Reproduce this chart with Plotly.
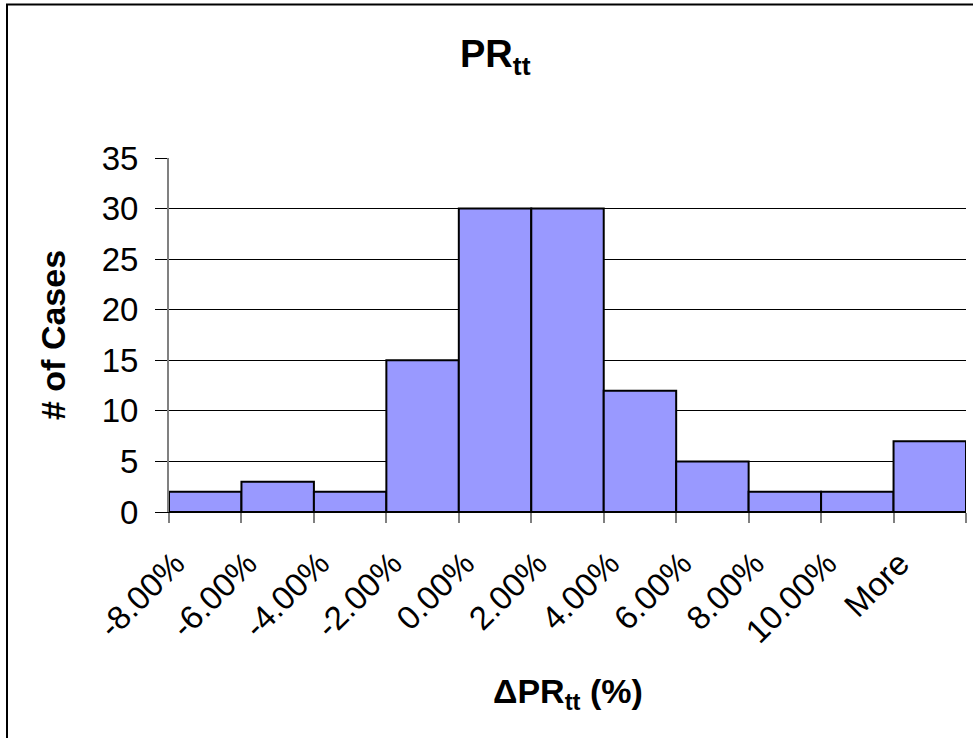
import plotly.graph_objects as go

bin_labels = ["-8.00%", "-6.00%", "-4.00%", "-2.00%", "0.00%", "2.00%",
              "4.00%", "6.00%", "8.00%", "10.00%", "More"]
counts = [2, 3, 2, 15, 30, 30, 12, 5, 2, 2, 7]
y_ticks = [0, 5, 10, 15, 20, 25, 30, 35]

FONT = "Arial, 'Liberation Sans', sans-serif"

W, H = 973, 738
L, R, T, B = 169, 7, 158, 226
pw, ph = W - L - R, H - T - B

def px_x(px):
    return (px - L) / pw

def px_y(py):
    return (H - B - py) / ph

n = len(counts)
x_centers = [i + 0.5 for i in range(n)]

fig = go.Figure()
fig.add_trace(go.Bar(
    x=x_centers, y=counts, width=1.0,
    marker=dict(color="#9999FF", line=dict(color="black", width=2)),
    hoverinfo="y",
))

fig.update_layout(
    width=W, height=H,
    margin=dict(l=L, r=R, t=T, b=B, pad=0),
    paper_bgcolor="white", plot_bgcolor="white",
    showlegend=False,
    font=dict(family=FONT, color="black", size=32),
    xaxis=dict(
        range=[0, n],
        tickmode="array",
        tickvals=list(range(n + 1)),
        ticktext=bin_labels + [""],
        tickangle=-45,
        ticks="outside", ticklen=10, tickcolor="#808080", tickwidth=1.5,
        ticklabelstandoff=8, ticklabelshift=6,
        showline=True, linecolor="black", linewidth=1,
        showgrid=False, zeroline=False,
        tickfont=dict(size=33, family=FONT, color="black"),
    ),
    yaxis=dict(
        range=[0, 35],
        tickmode="array",
        tickvals=y_ticks,
        ticktext=[str(v) for v in y_ticks],
        ticks="outside", ticklen=12, tickcolor="black", tickwidth=1,
        ticklabelstandoff=10,
        showline=True, linecolor="#808080", linewidth=2,
        showgrid=True, gridcolor="black", gridwidth=1,
        zeroline=False,
        tickfont=dict(size=33, family=FONT, color="black"),
    ),
    annotations=[
        dict(text="<b>PR<sub>tt</sub></b>", xref="paper", yref="paper",
             x=px_x(495), y=px_y(57), xanchor="center", yanchor="middle",
             showarrow=False, font=dict(size=38, family=FONT, color="black")),
        dict(text="<b># of Cases</b>", xref="paper", yref="paper",
             x=px_x(53), y=0.5, xanchor="center", yanchor="middle", textangle=-90,
             showarrow=False, font=dict(size=34, family=FONT, color="black")),
        dict(text="<b>ΔPR<sub>tt</sub> (%)</b>", xref="paper", yref="paper",
             x=px_x(568), y=px_y(693), xanchor="center", yanchor="middle",
             showarrow=False, font=dict(size=34, family=FONT, color="black")),
    ],
    shapes=[
        dict(type="line", xref="paper", yref="paper",
             x0=px_x(7), x1=px_x(7), y0=px_y(740), y1=px_y(4.5),
             line=dict(color="black", width=2)),
        dict(type="line", xref="paper", yref="paper",
             x0=px_x(6), x1=px_x(975), y0=px_y(4.5), y1=px_y(4.5),
             line=dict(color="black", width=2)),
    ],
)

fig.write_html("out.html")
